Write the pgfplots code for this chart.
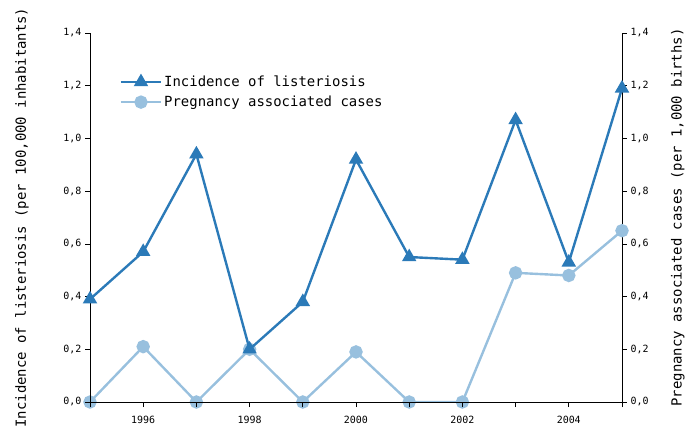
\documentclass[border=0pt]{standalone}
\usepackage{fontspec}
\setmainfont{DejaVu Sans Mono}
\usepackage{pgfplots}
\pgfplotsset{compat=1.18}
\definecolor{darkb}{RGB}{43,122,184}
\definecolor{lightb}{RGB}{152,192,222}
\begin{document}
\begin{tikzpicture}
\path[use as bounding box] (0,0) rectangle (688bp,432bp);
\pgfplotsset{every axis/.append style={
  scale only axis, width=532bp, height=369bp,
  at={(90bp,30bp)}, anchor=south west,
  xmin=1995, xmax=2005, ymin=0, ymax=1.4,
  ytick={0,0.2,...,1.4},
  tick align=outside, major tick length=5bp,
  axis line style={line width=0.8pt, black},
  tick style={line width=0.6pt, black},
  /pgf/number format/assume math mode=true,
  tick label style={font=\fontsize{10}{12}\selectfont},
  yticklabel style={/pgf/number format/.cd, fixed, fixed zerofill, precision=1, use comma},
  label style={font=\fontsize{14}{16}\selectfont},
}}
\begin{axis}[axis y line*=right, axis x line=none,
  ylabel={Pregnancy associated cases (per 1,000 births)},
  ylabel style={at={(axis description cs:1.105,0.5)}, anchor=center}]
\addplot[lightb, line width=2.4pt, mark=*, mark size=5.5bp] coordinates {
(1995,0) (1996,0.21) (1997,0) (1998,0.20) (1999,0) (2000,0.19) (2001,0) (2002,0) (2003,0.49) (2004,0.48) (2005,0.65)};
\end{axis}
\begin{axis}[axis y line*=left, axis x line*=bottom,
  xtick={1995,...,2005},
  xticklabels={,1996,,1998,,2000,,2002,,2004,},
  xticklabel style={yshift=-6bp},
  ylabel={Incidence of listeriosis (per 100,000 inhabitants)},
  ylabel style={at={(axis description cs:-0.128,0.5)}, anchor=center},
  legend style={at={(axis description cs:0.05,0.895)}, anchor=north west, draw=none, fill=none,
    font=\fontsize{14}{16}\selectfont, row sep=4bp},
  legend cell align=left,
  legend image code/.code={\draw[#1] (0bp,0bp) -- (40bp,0bp); \draw[#1,mark repeat=2,mark phase=2] plot coordinates {(0bp,0bp) (20bp,0bp) (40bp,0bp)};}]
\addlegendimage{darkb, line width=2.4pt, mark=triangle*, mark size=6bp}
\addlegendentry{Incidence of listeriosis}
\addlegendimage{lightb, line width=2.4pt, mark=*, mark size=5.5bp}
\addlegendentry{Pregnancy associated cases}
\addplot[darkb, line width=2.4pt, mark=triangle*, mark size=6bp, forget plot] coordinates {
(1995,0.39) (1996,0.57) (1997,0.94) (1998,0.20) (1999,0.38) (2000,0.92) (2001,0.55) (2002,0.54) (2003,1.07) (2004,0.53) (2005,1.19)};
\end{axis}
\end{tikzpicture}
\end{document}
